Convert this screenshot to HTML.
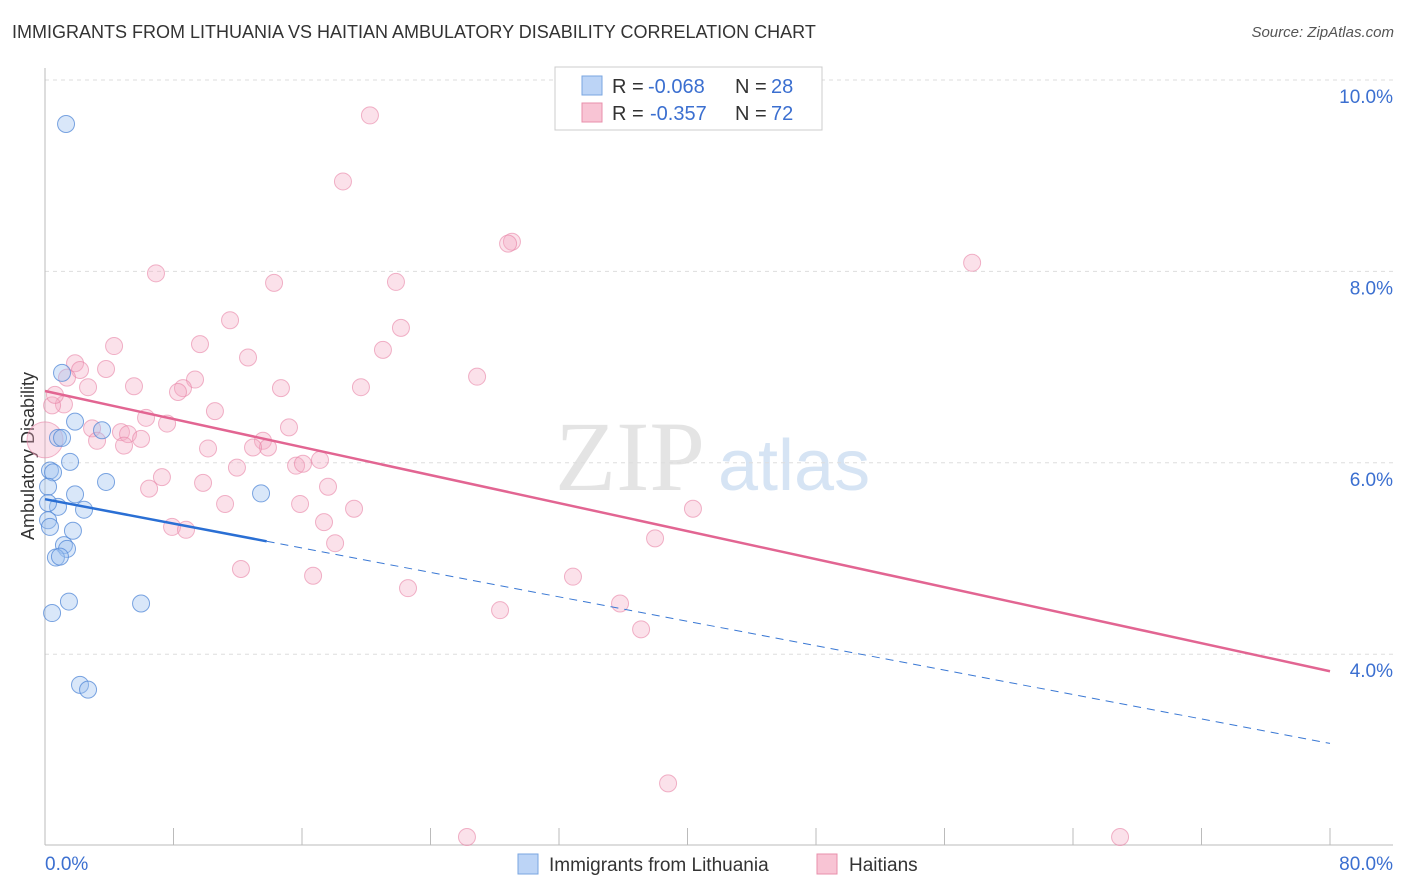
<!DOCTYPE html>
<html><head><meta charset="utf-8">
<style>
body{margin:0;background:#fff;font-family:"Liberation Sans",sans-serif;}
#wrap{position:relative;width:1406px;height:892px;overflow:hidden;}
.t{position:absolute;white-space:nowrap;}
</style></head>
<body>
<div id="wrap">
<div class="t" style="left:12px;top:22px;font-size:18px;color:#333;">IMMIGRANTS FROM LITHUANIA VS HAITIAN AMBULATORY DISABILITY CORRELATION CHART</div>
<div class="t" style="right:12px;top:24px;font-size:15px;color:#555;font-style:italic;">Source: ZipAtlas.com</div>
<svg id="svg" width="1406" height="892" style="position:absolute;left:0;top:0"></svg>
</div>
<script>
const xTicks=[0,8,16,24,32,40,48,56,64,72,80];
const yTicks=[4,6,8,10];
const yTickLabels=["4.0%","6.0%","8.0%","10.0%"];
const blueX=[1.31,1.06,1.87,3.55,0.81,1.06,1.56,0.31,0.50,0.19,1.87,3.80,0.81,2.43,0.19,0.31,1.74,1.18,1.37,0.68,0.93,1.49,5.98,0.44,2.18,2.68,13.45,0.19];
const blueY=[9.54,6.94,6.43,6.34,6.26,6.26,6.01,5.92,5.90,5.75,5.67,5.80,5.54,5.51,5.40,5.33,5.29,5.14,5.10,5.01,5.02,4.55,4.53,4.43,3.68,3.63,5.68,5.58];
const pinkX=[20.23,18.55,29.07,28.83,57.72,6.91,14.26,21.85,11.52,22.16,4.30,9.65,21.04,12.64,1.87,2.18,3.80,1.37,26.90,9.34,5.54,2.68,14.69,19.67,8.59,8.28,1.18,0.44,10.58,6.29,7.60,2.93,15.19,4.73,5.17,5.98,3.24,4.92,13.57,10.15,13.88,12.95,17.12,11.95,15.63,16.06,7.28,9.84,17.62,6.48,11.21,15.88,19.24,40.34,17.37,7.91,8.78,18.06,37.98,12.20,16.69,32.87,22.60,35.80,28.33,37.11,38.79,26.27,66.93,0,0.62];
const pinkY=[9.63,8.94,8.31,8.29,8.09,7.98,7.88,7.89,7.49,7.41,7.22,7.24,7.18,7.10,7.04,6.97,6.98,6.89,6.90,6.87,6.80,6.79,6.78,6.79,6.78,6.74,6.61,6.60,6.54,6.47,6.41,6.36,6.37,6.32,6.30,6.25,6.23,6.18,6.23,6.15,6.16,6.16,6.03,5.95,5.97,5.99,5.85,5.79,5.75,5.73,5.57,5.57,5.52,5.52,5.38,5.33,5.30,5.16,5.21,4.89,4.82,4.81,4.69,4.53,4.46,4.26,2.65,2.09,2.09,6.24,6.71];
const blueTrend=[5.62,-0.0319]; // intercept, slope
const blueSolidEnd=13.8;
const pinkTrend=[6.75,-0.0366];
const xs=v=>45+v/80*1285;
const ys=v=>80+(10-v)*95.7;
const svg=document.getElementById('svg');
const NS='http://www.w3.org/2000/svg';
function mk(tag,attrs,name,parent){const e=document.createElementNS(NS,tag);for(const k in attrs)e.setAttribute(k,attrs[k]);


(parent||svg).appendChild(e);return e;}
// watermark
let wm=mk('text',{x:555,y:490,'font-size':100,'font-family':'Liberation Serif',fill:'#e4e4e4'},'watermark-zip');wm.textContent='ZIP';
let wm2=mk('text',{x:718,y:490,'font-size':72,'font-family':'Liberation Sans',fill:'#d6e4f4'},'watermark-atlas');wm2.textContent='atlas';
// gridlines
yTicks.forEach((v,i)=>{mk('line',{x1:45,x2:1393,y1:ys(v),y2:ys(v),stroke:'#ddd','stroke-dasharray':'4,4'},'gridline');
let t=mk('text',{x:1393,y:ys(v)+23,'text-anchor':'end','font-size':19,fill:'#3b6fd0'},'y-tick-label');t.textContent=yTickLabels[i];});
mk('line',{x1:45,x2:1393,y1:80,y2:80,stroke:'#ddd','stroke-dasharray':'4,4'},'gridline-top');
// axes
mk('line',{x1:45,x2:45,y1:68,y2:845,stroke:'#bbb'},'y-axis');
mk('line',{x1:45,x2:1393,y1:845,y2:845,stroke:'#bbb'},'x-axis');
xTicks.forEach(v=>mk('line',{x1:xs(v),x2:xs(v),y1:828,y2:845,stroke:'#bbb'},'x-tick'));
let xl=mk('text',{x:45,y:870,'font-size':19,fill:'#3b6fd0'},'x-min-label');xl.textContent='0.0%';
let xr=mk('text',{x:1393,y:870,'text-anchor':'end','font-size':19,fill:'#3b6fd0'},'x-max-label');xr.textContent='80.0%';
let yt=mk('text',{x:0,y:0,'font-size':18,fill:'#333',transform:'translate(34,456) rotate(-90)','text-anchor':'middle'},'y-axis-title');yt.textContent='Ambulatory Disability';
// points
pinkX.forEach((x,i)=>mk('circle',{cx:xs(x),cy:ys(pinkY[i]),r:i==pinkX.length-2?18:8.5,fill:'rgba(244,170,195,0.35)',stroke:'rgba(232,130,165,0.6)','stroke-width':1},'haitian-point'));
blueX.forEach((x,i)=>mk('circle',{cx:xs(x),cy:ys(blueY[i]),r:8.5,fill:'rgba(160,195,240,0.4)',stroke:'rgba(80,135,215,0.75)','stroke-width':1},'lithuania-point'));
// trends
const bt=x=>blueTrend[0]+blueTrend[1]*x, pt=x=>pinkTrend[0]+pinkTrend[1]*x;
mk('line',{x1:xs(0),y1:ys(pt(0)),x2:xs(80),y2:ys(pt(80)),stroke:'#e26592','stroke-width':2.5},'haitian-trend-line');
mk('line',{x1:xs(blueSolidEnd),y1:ys(bt(blueSolidEnd)),x2:xs(80),y2:ys(bt(80)),stroke:'#3a78d4','stroke-width':1,'stroke-dasharray':'8,6'},'lithuania-trend-dashed');
mk('line',{x1:xs(0),y1:ys(bt(0)),x2:xs(blueSolidEnd),y2:ys(bt(blueSolidEnd)),stroke:'#2a6fd4','stroke-width':2.5},'lithuania-trend-line');
// top legend
mk('rect',{x:555,y:67,width:267,height:63,fill:'#fff',stroke:'#ccc'},'stats-legend');
mk('rect',{x:582,y:76,width:20,height:19,fill:'#bcd4f6',stroke:'#7aa6e0'},'legend-swatch-blue');
mk('rect',{x:582,y:103,width:20,height:19,fill:'#f8c4d4',stroke:'#e88fab'},'legend-swatch-pink');
function lt(x,y,txt,col,name){let t=mk('text',{x:x,y:y,'font-size':20,fill:col},name);t.textContent=txt;}
lt(612,93,'R = ','#333','legend-r-label');lt(648,93,'-0.068','#3b6fd0','legend-r-blue');
lt(735,93,'N = ','#333','legend-n-label');lt(771,93,'28','#3b6fd0','legend-n-blue');
lt(612,120,'R = ','#333','legend-r-label');lt(650,120,'-0.357','#3b6fd0','legend-r-pink');
lt(735,120,'N = ','#333','legend-n-label');lt(771,120,'72','#3b6fd0','legend-n-pink');
// bottom legend
mk('rect',{x:518,y:854,width:20,height:20,fill:'#bcd4f6',stroke:'#7aa6e0'},'bottom-legend-swatch-lithuania');
let b1=mk('text',{x:549,y:871,'font-size':19,fill:'#333'},'bottom-legend-lithuania');b1.textContent='Immigrants from Lithuania';
mk('rect',{x:817,y:854,width:20,height:20,fill:'#f8c4d4',stroke:'#e88fab'},'bottom-legend-swatch-haitians');
let b2=mk('text',{x:849,y:871,'font-size':19,fill:'#333'},'bottom-legend-haitians');b2.textContent='Haitians';
</script>
</body></html>
